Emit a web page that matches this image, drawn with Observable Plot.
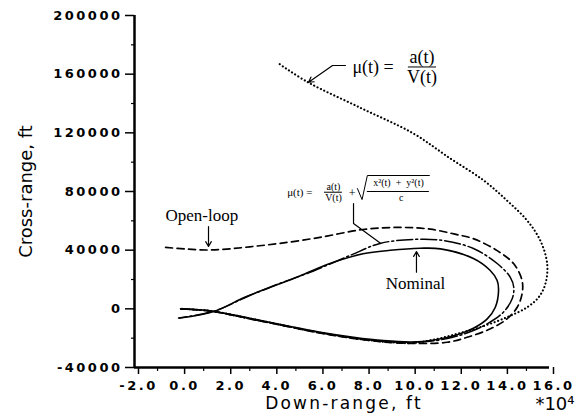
<!DOCTYPE html>
<html><head><meta charset="utf-8">
<script src="https://cdn.jsdelivr.net/npm/d3@7"></script>
<script src="https://cdn.jsdelivr.net/npm/@observablehq/plot@0.6"></script>
<style>
body{margin:0;background:#fff;}
g[aria-label="x-axis tick label"] text, g[aria-label="y-axis tick label"] text {font-weight:bold; letter-spacing:2.5px;}
</style>
</head><body><div id="chart"></div>
<script>
// Ticks
const xMajor = [-2, 0, 2, 4, 6, 8, 10, 12, 14, 16];
const xMinor = [-1, 1, 3, 5, 7, 9, 11, 13, 15];
const yMajor = [-40000, 0, 40000, 80000, 120000, 160000, 200000];
const yMinor = [-20000, 20000, 60000, 100000, 140000, 180000];

// Nominal (solid)
const nominal = [[0,0],[0.8,-600],[1.5,-1800],[3.0,-6400],[4.5,-11200],[6.0,-15800],[7.5,-19400],[8.8,-21700],[10.0,-22600],[11.0,-21200],[12.0,-17600],[12.7,-13200],[13.3,-6800],[13.65,1100],[13.79,12500],[13.73,19300],[13.43,26100],[12.7,34300],[11.27,40900],[10.39,41300],[9.09,39900],[7.91,37500],[6.48,30900],[5.17,22400],[3.87,14500],[2.78,7900],[1.48,-1600],[-0.04,-6300]];

// mu = a/V + sqrt(x^2+y^2)/c (dash-dot)
const closedLoop = [[0,0],[0.8,-700],[1.5,-2000],[3.0,-6800],[4.5,-11500],[6.0,-16200],[7.5,-19900],[8.8,-22200],[10.0,-23000],[11.0,-21800],[11.8,-19400],[12.5,-16000],[13.3,-10200],[14.0,-2300],[14.38,6800],[14.45,14700],[14.3,21500],[13.73,30900],[12.7,41100],[11.41,46600],[10.1,47300],[8.65,44600],[7.35,36400],[5.48,24100],[4.3,17300],[3.0,9100],[1.48,-1400],[-0.09,-6300]];

// Open-loop (dashed)
const openLoop = [[-0.65,41900],[0.2,40800],[1.13,40100],[2.0,40700],[3.0,42300],[4.3,44600],[6.04,48700],[7.91,54100],[9.52,55500],[10.83,54300],[11.9,50900],[12.72,47700],[13.73,39700],[14.45,30700],[14.81,19300],[14.81,10200],[14.6,1100],[14.16,-6800],[13.44,-13600],[12.43,-19400],[11.56,-22800],[10.0,-23600],[8.8,-22600],[7.5,-20200],[6.0,-16400],[4.5,-11600],[3.0,-6800],[1.5,-2000],[0.8,-800],[0,0]];

// mu = a/V (dotted)
const muAV = [[4.3,166800],[5.52,154500],[7.78,137200],[10.09,119600],[11.7,102500],[13.15,87500],[14.16,73800],[15.03,60200],[15.6,46600],[15.9,30700],[15.82,17000],[15.53,7900],[15.03,1100],[14.16,-5700],[13.0,-12500],[12.0,-17000],[11.0,-21000],[10.0,-23300],[8.8,-22400],[7.5,-20000],[6.0,-16100],[4.5,-11400],[3.0,-6600],[1.5,-1900],[0.8,-700],[0,0]];

// Annotations (data units)
const serifLabels = [
  {x: 0.92, y: 63600, text: "Open-loop", size: 17, anchor: "middle"},
  {x: 10.19, y: 17250, text: "Nominal", size: 17, anchor: "middle"},
  {x: 7.45, y: 164500, text: "μ(t) =", size: 18, anchor: "start"},
  {x: 10.47, y: 171300, text: "a(t)", size: 18, anchor: "middle"},
  {x: 10.47, y: 157700, text: "V(t)", size: 18, anchor: "middle"},
  {x: 4.62, y: 79300, text: "μ(t) =", size: 11, anchor: "start"},
  {x: 6.63, y: 83000, text: "a(t)", size: 10, anchor: "middle"},
  {x: 6.63, y: 75600, text: "V(t)", size: 10, anchor: "middle"},
  {x: 7.44, y: 78800, text: "+", size: 12, anchor: "middle"},
  {x: 9.45, y: 85600, text: "x²(t)  +  y²(t)", size: 10, anchor: "middle"},
  {x: 9.57, y: 75800, text: "c", size: 10, anchor: "middle"}
];
const fractionBars = [
  {y: 164900, x1: 9.88, x2: 11.1},
  {y: 79500, x1: 6.24, x2: 7.02},
  {y: 80000, x1: 8.1, x2: 10.79}
];
const sqrtSign = [[7.67,82000],[7.87,74500],[8.1,90900],[10.79,90900]];
const leaderAV = [[7.15,165900],[6.59,165900]];
const leaderCL = [[7.50,71800],[7.50,58200],[8.67,44700]];
const arrows = [
  {x1: 6.59, y1: 165900, x2: 5.55, y2: 154500},
  {x1: 1.21, y1: 56100, x2: 1.21, y2: 42500},
  {x1: 10.23, y1: 24950, x2: 10.23, y2: 39070}
];

const X = d => d[0], Y = d => d[1];
const serif = "Liberation Serif, Times New Roman, serif";

const chart = Plot.plot({
  width: 575,
  height: 420,
  marginLeft: 134,
  marginRight: 26,
  marginTop: 15,
  marginBottom: 53,
  style: {fontFamily: "DejaVu Sans, sans-serif", fontSize: "13px", background: "#fff", color: "#000"},
  x: {domain: [-2, 16]},
  y: {domain: [-40000, 200000]},
  marks: [
    Plot.axisX(xMajor, {tickSize: 7, tickPadding: 6, strokeWidth: 1.5, tickFormat: d => d.toFixed(1), label: null, dx: 4}),
    Plot.axisX(xMinor, {tickSize: 4, strokeWidth: 1.2, tickFormat: () => "", label: null}),
    Plot.axisY(yMajor, {tickSize: 9, tickPadding: 3, strokeWidth: 1.5, tickFormat: d => String(d), label: null}),
    Plot.axisY(yMinor, {tickSize: 3, strokeWidth: 1.2, tickFormat: () => "", label: null}),
    Plot.ruleX([-2], {strokeWidth: 2.5}),
    Plot.ruleY([-40000], {strokeWidth: 2.5}),
    Plot.line(muAV, {x: X, y: Y, curve: "catmull-rom", strokeWidth: 2.1, strokeDasharray: "0.1 3.6", strokeLinecap: "round"}),
    Plot.line(openLoop, {x: X, y: Y, curve: "catmull-rom", strokeWidth: 1.7, strokeDasharray: "7 4.5"}),
    Plot.line(closedLoop, {x: X, y: Y, curve: "catmull-rom", strokeWidth: 1.5, strokeDasharray: "16 3 2 3"}),
    Plot.line(nominal, {x: X, y: Y, curve: "catmull-rom", strokeWidth: 1.6}),
    Plot.text(serifLabels, {x: "x", y: "y", text: "text", fill: "black", fontSize: d => d.size, textAnchor: "start", fontFamily: serif, filter: d => d.anchor === "start"}),
    Plot.text(serifLabels, {x: "x", y: "y", text: "text", fill: "black", fontSize: d => d.size, textAnchor: "middle", fontFamily: serif, filter: d => d.anchor === "middle"}),
    Plot.ruleY(fractionBars, {y: "y", x1: "x1", x2: "x2", strokeWidth: 1}),
    Plot.line(sqrtSign, {x: X, y: Y, strokeWidth: 1}),
    Plot.line(leaderAV, {x: X, y: Y, strokeWidth: 1.2}),
    Plot.line(leaderCL, {x: X, y: Y, strokeWidth: 1.2}),
    Plot.arrow(arrows, {x1: "x1", y1: "y1", x2: "x2", y2: "y2", strokeWidth: 1.2, headLength: 7}),
    Plot.text(["Down-range, ft"], {frameAnchor: "bottom", dy: 41, dx: 2, fontSize: 17, textAnchor: "middle"}),
    Plot.text(["*10⁴"], {frameAnchor: "bottom-right", dy: 42, dx: 25, textAnchor: "end", fontSize: 18}),
    Plot.text(["Cross-range, ft"], {frameAnchor: "middle", dx: -316, rotate: -90, textAnchor: "middle", fontSize: 18})
  ]
});
document.getElementById("chart").appendChild(chart);
d3.select(chart).selectAll("text").each(function() {
  const t = this.textContent;
  if (t === "Cross-range, ft") {
    this.setAttribute("text-anchor", "middle");
    this.style.textAnchor = "middle";
  }
  if (t === "Down-range, ft") {
    this.style.letterSpacing = "2.2px";
  }
});
</script></body></html>
